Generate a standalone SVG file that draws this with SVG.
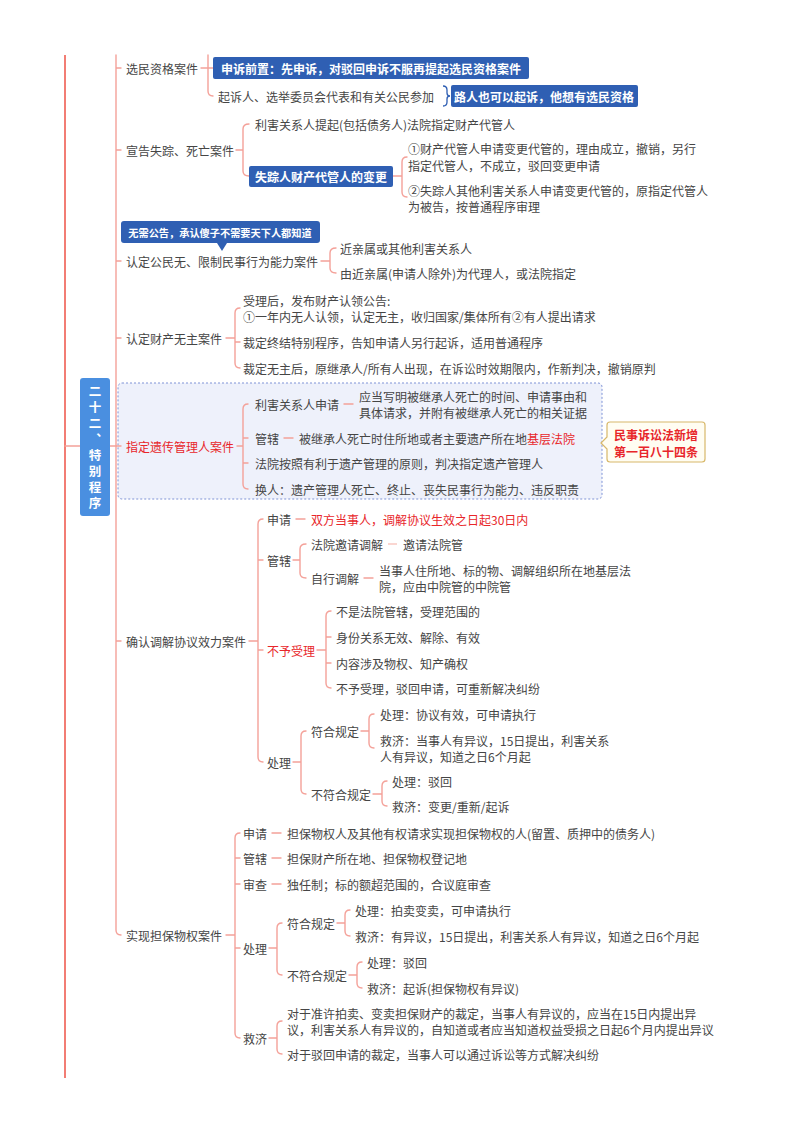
<svg xmlns="http://www.w3.org/2000/svg" width="800" height="1132" viewBox="0 0 800 1132">
<style>
text{font-family:"Noto Sans CJK SC","Noto Sans",sans-serif;font-size:12px;fill:#454545;dominant-baseline:central}
.r{fill:#e8262a}
.w{fill:#fff;font-weight:bold}
.s{font-size:10.2px}
.rt{font-size:12.5px;writing-mode:vertical-rl;text-orientation:upright;letter-spacing:3.5px}
.c{fill:none;stroke:#f4a199;stroke-width:1.4;stroke-linecap:round}
.lc{fill:none;stroke:#f8c4be;stroke-width:1.4}
.bb{fill:#2f5fb3}
</style>
<rect width="800" height="1132" fill="#fff"/>
<g id="b5-frame">
<rect x="118" y="383" width="484" height="116" rx="4" fill="#eef1fb" stroke="#7f93d6" stroke-width="1" stroke-dasharray="2,2"/>
</g>
<g id="connectors">
<path d="M65 55 L65 1078" fill="none" stroke="#f27d74" stroke-width="2"/>
<path class="c" d="M65 446 L80 446 M110 446 L116 446"/>
<path class="c" d="M116 55 L116 930 Q116 935 121 935 M116 68 L121 68 M116 150 L121 150 M116 261 L121 261 M116 338 L121 338 M116 446 L121 446 M116 641 L121 641"/>
<path class="c" d="M201 68 L213 68 M208 55 L208 91 Q208 96 213 96"/>
<path class="c" d="M236 150 L243 150 M249 124 Q243 124 243 129 L243 171 Q243 176 249 176"/>
<path class="c" d="M393 176 L402 176 M407 157 Q402 157 402 162 L402 192 Q402 197 407 197"/>
<path class="c" d="M321 261 L330 261 M336 248 Q330 248 330 253 L330 268 Q330 273 336 273"/>
<path class="c" d="M226 338 L235 338 M240 308 Q235 308 235 313 L235 363 Q235 368 240 368 M235 342 L240 342"/>
<path class="c" d="M237 446 L243 446 M248 404 Q243 404 243 409 L243 484 Q243 489 248 489 M243 438 L248 438 M243 463 L248 463 M344 404 L353 404 M284 438 L293 438"/>
<path class="c" d="M249 641 L258 641 M263 519 Q258 519 258 524 L258 757 Q258 762 263 762 M258 560 L263 560 M258 650 L263 650 M296 519 L305 519"/>
<path class="c" d="M293 560 L300 560 M306 544 Q300 544 300 549 L300 573 Q300 578 306 578 M364 578 L373 578"/>
<path class="lc" d="M388 544 L397 544"/>
<path class="c" d="M317 650 L326 650 M331 611 Q326 611 326 616 L326 683 Q326 688 331 688 M326 637 L331 637 M326 663 L331 663"/>
<path class="c" d="M293 762 L301 762 M306 731 Q301 731 301 736 L301 789 Q301 794 306 794"/>
<path class="c" d="M361 731 L369 731 M374 714 Q369 714 369 719 L369 743 Q369 748 374 748"/>
<path class="c" d="M373 794 L382 794 M387 781 Q382 781 382 786 L382 801 Q382 806 387 806"/>
<path class="c" d="M226 935 L235 935 M240 833 Q235 833 235 838 L235 1033 Q235 1038 240 1038 M235 858 L240 858 M235 884 L240 884 M235 948 L240 948 M272 833 L281 833 M272 858 L281 858 M272 884 L281 884"/>
<path class="c" d="M269 948 L277 948 M282 923 Q277 923 277 928 L277 970 Q277 975 282 975"/>
<path class="c" d="M337 923 L345 923 M350 910 Q345 910 345 915 L345 931 Q345 936 350 936"/>
<path class="c" d="M349 975 L357 975 M362 962 Q357 962 357 967 L357 983 Q357 988 362 988"/>
<path class="c" d="M269 1038 L277 1038 M282 1021 Q277 1021 277 1026 L277 1049 Q277 1054 282 1054"/>
</g>
<g id="root">
<rect x="80" y="378" width="30" height="138" rx="3" fill="#4a8fe0"/>
<text class="w rt" x="95" y="385">二十二、特别程序</text>
</g>
<g id="b1">
<text x="126" y="68">选民资格案件</text>
<rect class="bb" x="213" y="57" width="316" height="22" rx="2"/>
<text class="w" x="371" y="68" text-anchor="middle">申诉前置：先申诉，对驳回申诉不服再提起选民资格案件</text>
<text x="218" y="96">起诉人、选举委员会代表和有关公民参加</text>
<path d="M443 86 Q447 86 447 90 L447 93 Q447 96 450 96 Q447 96 447 99 L447 102 Q447 106 443 106" fill="none" stroke="#2f5fb3" stroke-width="1.3"/>
<rect class="bb" x="451" y="85" width="187" height="22" rx="2"/>
<text class="w" x="544" y="96" text-anchor="middle">路人也可以起诉，他想有选民资格</text>
</g>
<g id="b2">
<text x="126" y="150">宣告失踪、死亡案件</text>
<text x="255" y="124">利害关系人提起(包括债务人)法院指定财产代管人</text>
<rect class="bb" x="249" y="166" width="144" height="21" rx="2"/>
<text class="w" x="321" y="176.5" text-anchor="middle">失踪人财产代管人的变更</text>
<text x="408"><tspan x="408" y="148">①财产代管人申请变更代管的，理由成立，撤销，另行</tspan><tspan x="408" y="165">指定代管人，不成立，驳回变更申请</tspan></text>
<text x="408"><tspan x="408" y="190">②失踪人其他利害关系人申请变更代管的，原指定代管人</tspan><tspan x="408" y="206">为被告，按普通程序审理</tspan></text>
</g>
<g id="b3">
<path class="bb" d="M124 221 L317 221 Q320 221 320 224 L320 240 Q320 243 317 243 L227 243 L222 251 L217 243 L124 243 Q121 243 121 240 L121 224 Q121 221 124 221 Z"/>
<text class="w s" x="220" y="232" text-anchor="middle">无需公告，承认傻子不需要天下人都知道</text>
<text x="126" y="261">认定公民无、限制民事行为能力案件</text>
<text x="340" y="248">近亲属或其他利害关系人</text>
<text x="340" y="273">由近亲属(申请人除外)为代理人，或法院指定</text>
</g>
<g id="b4">
<text x="126" y="338">认定财产无主案件</text>
<text x="243"><tspan x="243" y="300">受理后，发布财产认领公告:</tspan><tspan x="243" y="316">①一年内无人认领，认定无主，收归国家/集体所有②有人提出请求</tspan></text>
<text x="243" y="342">裁定终结特别程序，告知申请人另行起诉，适用普通程序</text>
<text x="243" y="368">裁定无主后，原继承人/所有人出现，在诉讼时效期限内，作新判决，撤销原判</text>
</g>
<g id="b5">
<text class="r" x="126" y="446">指定遗传管理人案件</text>
<text x="255" y="404">利害关系人申请</text>
<text x="359"><tspan x="359" y="396">应当写明被继承人死亡的时间、申请事由和</tspan><tspan x="359" y="412">具体请求，并附有被继承人死亡的相关证据</tspan></text>
<text x="255" y="438">管辖</text>
<text x="299" y="438">被继承人死亡时住所地或者主要遗产所在地<tspan class="r">基层法院</tspan></text>
<text x="255" y="463">法院按照有利于遗产管理的原则，判决指定遗产管理人</text>
<text x="255" y="489">换人：遗产管理人死亡、终止、丧失民事行为能力、违反职责</text>
</g>
<g id="note184">
<path d="M610 422 L702 422 Q705 422 705 425 L705 459 Q705 462 702 462 L610 462 Q607 462 607 459 L607 449 L601 443 L607 437 L607 425 Q607 422 610 422 Z" fill="#fffdf2" stroke="#d8b86a" stroke-width="1.2"/>
<text class="r" x="656" y="434" text-anchor="middle" font-weight="bold">民事诉讼法新增</text>
<text class="r" x="656" y="451" text-anchor="middle" font-weight="bold">第一百八十四条</text>
</g>
<g id="b6">
<text x="126" y="641">确认调解协议效力案件</text>
<text x="267" y="519">申请</text>
<text class="r" x="311" y="519">双方当事人，调解协议生效之日起30日内</text>
<text x="267" y="560">管辖</text>
<text x="311" y="544">法院邀请调解</text>
<text x="403" y="544">邀请法院管</text>
<text x="311" y="578">自行调解</text>
<text x="379"><tspan x="379" y="570">当事人住所地、标的物、调解组织所在地基层法</tspan><tspan x="379" y="586">院，应由中院管的中院管</tspan></text>
<text class="r" x="267" y="650">不予受理</text>
<text x="336" y="611">不是法院管辖，受理范围的</text>
<text x="336" y="637">身份关系无效、解除、有效</text>
<text x="336" y="663">内容涉及物权、知产确权</text>
<text x="336" y="688">不予受理，驳回申请，可重新解决纠纷</text>
<text x="267" y="762">处理</text>
<text x="311" y="731">符合规定</text>
<text x="380" y="714">处理：协议有效，可申请执行</text>
<text x="380"><tspan x="380" y="740">救济：当事人有异议，15日提出，利害关系</tspan><tspan x="380" y="756">人有异议，知道之日6个月起</tspan></text>
<text x="311" y="794">不符合规定</text>
<text x="392" y="781">处理：驳回</text>
<text x="392" y="806">救济：变更/重新/起诉</text>
</g>
<g id="b7">
<text x="126" y="935">实现担保物权案件</text>
<text x="243" y="833">申请</text>
<text x="287" y="833">担保物权人及其他有权请求实现担保物权的人(留置、质押中的债务人)</text>
<text x="243" y="858">管辖</text>
<text x="287" y="858">担保财产所在地、担保物权登记地</text>
<text x="243" y="884">审查</text>
<text x="287" y="884">独任制；标的额超范围的，合议庭审查</text>
<text x="243" y="948">处理</text>
<text x="287" y="923">符合规定</text>
<text x="355" y="910">处理：拍卖变卖，可申请执行</text>
<text x="355" y="936">救济：有异议，15日提出，利害关系人有异议，知道之日6个月起</text>
<text x="287" y="975">不符合规定</text>
<text x="367" y="962">处理：驳回</text>
<text x="367" y="988">救济：起诉(担保物权有异议)</text>
<text x="243" y="1038">救济</text>
<text x="287"><tspan x="287" y="1013">对于准许拍卖、变卖担保财产的裁定，当事人有异议的，应当在15日内提出异</tspan><tspan x="287" y="1029">议，利害关系人有异议的，自知道或者应当知道权益受损之日起6个月内提出异议</tspan></text>
<text x="287" y="1054">对于驳回申请的裁定，当事人可以通过诉讼等方式解决纠纷</text>
</g>
</svg>
